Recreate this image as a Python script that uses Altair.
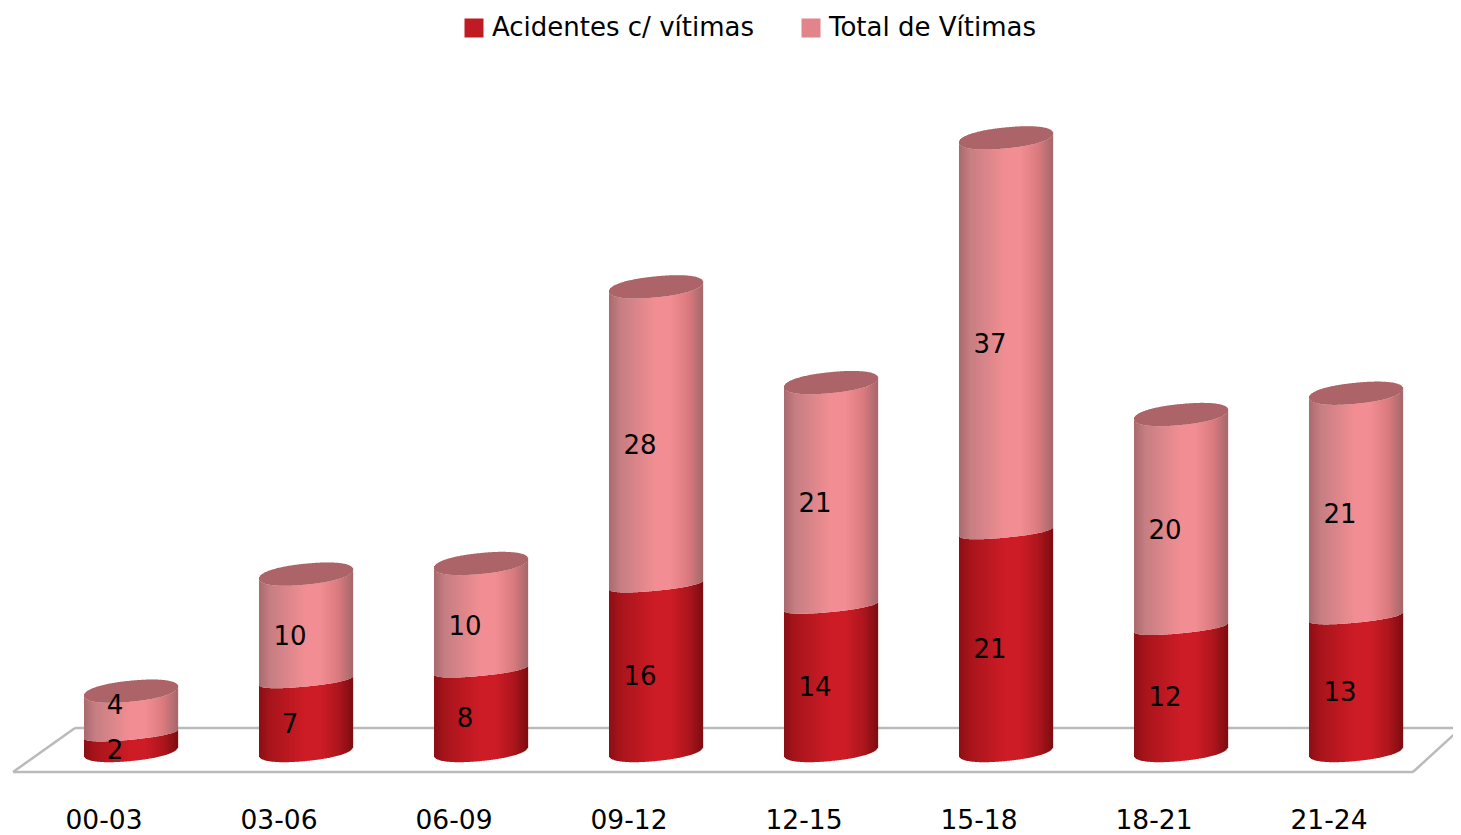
import numpy as np
import pandas as pd
import altair as alt

periods = ["00-03", "03-06", "06-09", "09-12", "12-15", "15-18", "18-21", "21-24"]
acidentes = [2, 7, 8, 16, 14, 21, 12, 13]
vitimas = [4, 10, 10, 28, 21, 37, 20, 21]
series_names = ["Acidentes c/ vítimas", "Total de Vítimas"]
legend_colors = ["#C01A22", "#E2858A"]
top_color = "#AC6468"

red_stops = ["#8A0F14", "#A8141B", "#CE1C26", "#CE1C26", "#AC151C", "#7C0C10"]
pink_stops = ["#A9696D", "#C67E82", "#F28E93", "#F28E93", "#D9797E", "#A4686B"]
stop_pos = [0.0, 0.12, 0.5, 0.65, 0.85, 1.0]

W, H = 1445, 827
PX_PER_UNIT = 10.64          # vertical scale, pixels per value unit
PX_PER_CAT = 175.0
Y0 = 747.0                   # chart pixel of value 0
X0 = 123.0                   # chart pixel of first category centre
BASE = 0.376                 # value at the foot of every cylinder
A = 47                       # cylinder half width, px
TILT = 4.5 / 47              # slope of the ellipses
ROUND = 2.2                  # exponent of the rounded cap outline
B_BOTTOM, B_MID, B_TOP = 10, 6, 10.5

x_scale = alt.Scale(domain=[-X0 / PX_PER_CAT, (W - X0) / PX_PER_CAT], nice=False, zero=False)
y_scale = alt.Scale(domain=[(Y0 - H) / PX_PER_UNIT, Y0 / PX_PER_UNIT], nice=False, zero=False)


def hex_rgb(h):
    return np.array([int(h[i:i + 2], 16) for i in (1, 3, 5)], dtype=float)


def shade(stops, t):
    c = [np.interp(t, stop_pos, [hex_rgb(s)[k] for s in stops]) for k in range(3)]
    return "#%02x%02x%02x" % tuple(int(round(v)) for v in c)


def curve(v, d, b, side):
    """Value on a cap of centre value v, d px from the axis; side=+1 is the front."""
    px = -TILT * d + side * b * max(0.0, 1 - abs(d / A) ** ROUND) ** (1 / ROUND)
    return v - px / PX_PER_UNIT


rows = []
for i, (a, t) in enumerate(zip(acidentes, vitimas)):
    for d in np.arange(-A + 0.5, A, 1.0):
        frac = (d + A) / (2 * A)
        xa = i + (d - 0.5) / PX_PER_CAT
        xb = i + (d + 0.65) / PX_PER_CAT
        total = a + t
        rows.append(dict(x=xa, x2=xb, y=curve(BASE, d, B_BOTTOM, 1), y2=curve(a, d, B_MID, 1),
                         c=shade(red_stops, frac)))
        rows.append(dict(x=xa, x2=xb, y=curve(a, d, B_MID, 1), y2=curve(total, d, B_TOP, 1),
                         c=shade(pink_stops, frac)))
        rows.append(dict(x=xa, x2=xb, y=curve(total, d, B_TOP, 1), y2=curve(total, d, B_TOP, -1),
                         c=top_color))
slices = pd.DataFrame(rows)

labels = []
for i, (a, t) in enumerate(zip(acidentes, vitimas)):
    labels.append(dict(x=i, y=(BASE + a) / 2 - 9 / PX_PER_UNIT, t=str(a)))
    labels.append(dict(x=i, y=a + t / 2 - (10 if t > 5 else -6) / PX_PER_UNIT, t=str(t)))
labels = pd.DataFrame(labels)

ticks = pd.DataFrame({"x": range(len(periods)), "t": periods})
legend_df = pd.DataFrame({"s": series_names, "x": [0, 1], "y": [0, 0]})

GREY = "#BABABA"


def floor_line(x1, x2, y1, y2):
    return alt.Chart(legend_df.head(1)).mark_rule(color=GREY, strokeWidth=2.5).encode(
        x=alt.value(x1), x2=alt.value(x2), y=alt.value(y1), y2=alt.value(y2))


floor = [
    floor_line(5, 1405, 764, 764),
    floor_line(67, 1453, 720, 720),
    floor_line(5, 67, 764, 720),
    floor_line(1405, 1453, 764, 720),
]

bars = alt.Chart(slices).mark_rect(strokeWidth=0, opacity=1).encode(
    x=alt.X("x:Q", scale=x_scale, axis=None),
    x2="x2:Q",
    y=alt.Y("y:Q", scale=y_scale, axis=None),
    y2="y2:Q",
    fill=alt.Fill("c:N", scale=None),
)

value_text = alt.Chart(labels).mark_text(
    font="DejaVu Sans", fontSize=26, color="#000000", dx=-16, align="center", baseline="middle"
).encode(
    x=alt.X("x:Q", scale=x_scale, axis=None),
    y=alt.Y("y:Q", scale=y_scale, axis=None),
    text="t:N",
)

tick_text = alt.Chart(ticks).mark_text(
    font="DejaVu Sans", fontSize=26.5, color="#000000", align="center", baseline="middle", dx=-27
).encode(
    x=alt.X("x:Q", scale=x_scale, axis=None),
    y=alt.value(812.5),
    text="t:N",
)

legend_layer = alt.Chart(legend_df).mark_point(filled=True, size=0, shape="square").encode(
    x=alt.X("x:Q", scale=x_scale, axis=None),
    y=alt.Y("y:Q", scale=y_scale, axis=None),
    color=alt.Color(
        "s:N",
        scale=alt.Scale(domain=series_names, range=legend_colors),
        legend=alt.Legend(
            title=None, orient="none", legendX=453, legendY=7, columns=2, direction="horizontal",
            symbolType="square", symbolSize=361, symbolOpacity=1, symbolStrokeWidth=0,
            labelFont="DejaVu Sans", labelFontSize=26, labelColor="#000000", labelLimit=400,
            labelOffset=5, columnPadding=44, padding=0,
        ),
    ),
)

chart = alt.layer(*floor, bars, value_text, tick_text, legend_layer).properties(
    width=W, height=H, padding=0, autosize=alt.AutoSizeParams(type="none"), background="#FFFFFF"
).configure_view(stroke=None)

chart.save("out.html", embed_options={"renderer": "svg", "actions": False})
